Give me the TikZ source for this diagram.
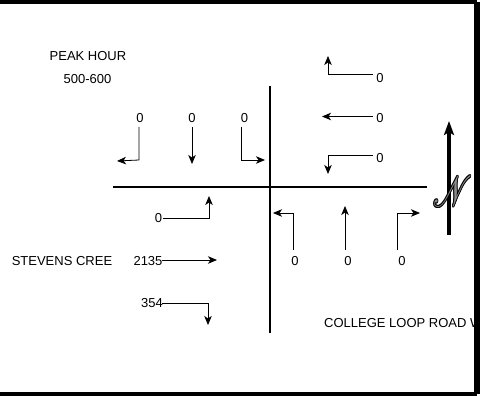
\documentclass[tikz,border=0pt]{standalone}
\usepackage{fontspec}
\setmainfont{Liberation Sans}
\usepackage{mathrsfs}
\usetikzlibrary{arrows.meta}
\begin{document}
\begin{tikzpicture}[x=1pt,y=-1pt,
  lbl/.style={font=\fontsize{13}{13}\selectfont, inner sep=0pt},
  mv/.style={line width=0.8pt, -{Stealth[length=9pt,width=7.5pt,inset=2.5pt]}},
  road/.style={line width=2pt},
  frame/.style={line width=4pt},
  northarrow/.style={line width=3.5pt, -{Stealth[length=14pt,width=10pt,inset=3pt]}},
  nglyph/.style={inner sep=0pt, xscale=3.1, yscale=4.3},
]
\useasboundingbox (0,0) rectangle (480,396);

% titles
\node[lbl] (peak) at (88,56) {PEAK HOUR};
\node[lbl] (time) at (87.5,79) {500-600};
\node[lbl] (stevens) at (62,261) {STEVENS CREE};
\node[lbl, anchor=west] (college) at (324,323) {COLLEGE LOOP ROAD W};

% roads
\coordinate (rn) at (269.5,86);
\coordinate (rs) at (269.5,333);
\coordinate (rw) at (113,186.7);
\coordinate (re) at (427,186.7);
\draw[road] (rn) -- (rs);
\draw[road] (rw) -- (re);

% westbound (top right)
\node[lbl] (wl) at (380,78) {0};
\node[lbl] (wt) at (380,118) {0};
\node[lbl] (wr) at (380,158) {0};
\coordinate (wl0) at (373,74);
\coordinate (wl1) at (328,74);
\coordinate (wl2) at (328,56);
\draw[mv] (wl0) -- (wl1) -- (wl2);
\coordinate (wt0) at (373,116.5);
\coordinate (wt1) at (322,116.5);
\draw[mv] (wt0) -- (wt1);
\coordinate (wr0) at (373,155.5);
\coordinate (wr1) at (328,155.5);
\coordinate (wr2) at (328,174);
\draw[mv] (wr0) -- (wr1) -- (wr2);

% southbound (top left)
\node[lbl] (sl) at (140,118) {0};
\node[lbl] (st) at (192,118) {0};
\node[lbl] (sr) at (244.5,118) {0};
\coordinate (sl0) at (139,127);
\coordinate (sl1) at (139,160);
\coordinate (sl2) at (117,161);
\draw[mv] (sl0) -- (sl1) -- (sl2);
\coordinate (st0) at (192,127);
\coordinate (st1) at (192,164);
\draw[mv] (st0) -- (st1);
\coordinate (sr0) at (241.5,127);
\coordinate (sr1) at (241.5,160);
\coordinate (sr2) at (265,160);
\draw[mv] (sr0) -- (sr1) -- (sr2);

% eastbound (bottom left)
\node[lbl] (el) at (158.5,218) {0};
\node[lbl] (et) at (148,261) {2135};
\node[lbl] (er) at (152,303) {354};
\coordinate (el0) at (163,218);
\coordinate (el1) at (209,218);
\coordinate (el2) at (209,196);
\draw[mv] (el0) -- (el1) -- (el2);
\coordinate (et0) at (162,260);
\coordinate (et1) at (217,260);
\draw[mv] (et0) -- (et1);
\coordinate (er0) at (162,303);
\coordinate (er1) at (208,303);
\coordinate (er2) at (208,325);
\draw[mv] (er0) -- (er1) -- (er2);

% northbound (bottom right)
\node[lbl] (nl) at (295,261) {0};
\node[lbl] (nt) at (348,261) {0};
\node[lbl] (nr) at (402,261) {0};
\coordinate (nl0) at (293,250);
\coordinate (nl1) at (293,213);
\coordinate (nl2) at (273,213);
\draw[mv] (nl0) -- (nl1) -- (nl2);
\coordinate (nt0) at (345,250);
\coordinate (nt1) at (345,206);
\draw[mv] (nt0) -- (nt1);
\coordinate (nr0) at (397,250);
\coordinate (nr1) at (397,213);
\coordinate (nr2) at (420,213);
\draw[mv] (nr0) -- (nr1) -- (nr2);

% north arrow
\coordinate (na0) at (449,235);
\coordinate (na1) at (449,121);
\draw[northarrow] (na0) -- (na1);
% outlined script N: black copies around, grey copy on top
\foreach \dx/\dy [count=\k] in {-0.8/0,0.8/0,0/-0.8,0/0.8,-0.6/-0.6,0.6/0.6,-0.6/0.6,0.6/-0.6}
  \node[nglyph, text=black] (nout\k) at (452.5+\dx,191.5+\dy) {$\mathscr{N}$};
\node[nglyph, text=black!45] (nsym) at (452.5,191.5) {$\mathscr{N}$};

% frame (left side lies outside the picture)
\coordinate (f1) at (-10,2);
\coordinate (f2) at (477,2);
\coordinate (f3) at (477,394);
\coordinate (f4) at (-10,394);
\draw[frame] (f1) -- (f2);
\draw[frame] (f3) -- (f4);
\draw[line width=6pt] (f2) -- (f3);
\end{tikzpicture}
\end{document}
